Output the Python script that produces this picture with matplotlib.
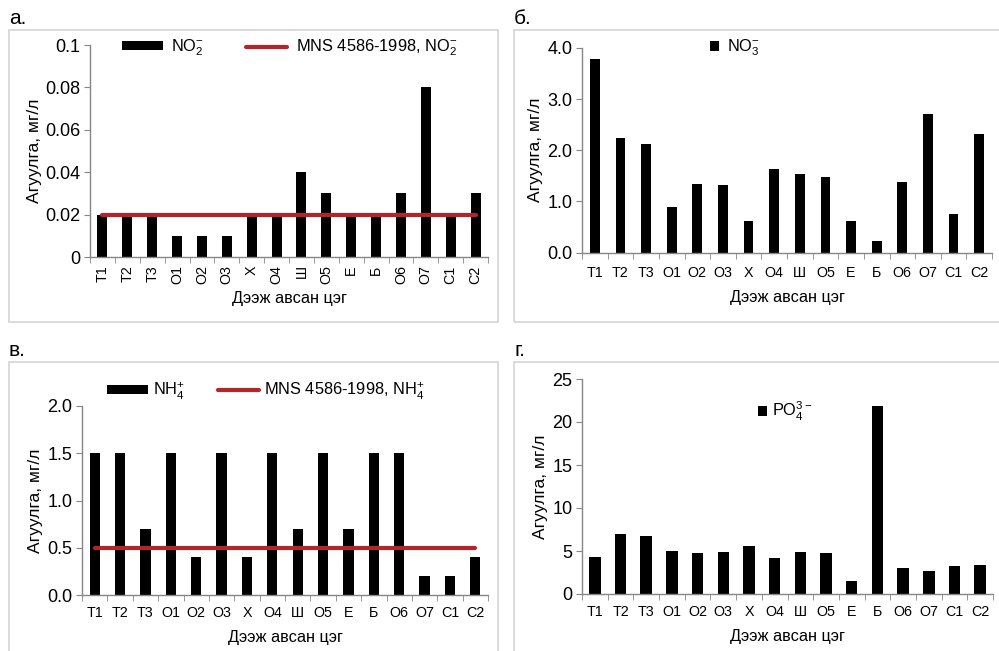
"""Four-panel nutrient concentration chart (NO2-, NO3-, NH4+, PO4 3-) by sampling point."""
import matplotlib
matplotlib.use("Agg")
import matplotlib.pyplot as plt
from matplotlib.patches import Rectangle
from matplotlib.ticker import FixedLocator, MultipleLocator

plt.rcParams["font.family"] = ["Liberation Sans", "DejaVu Sans"]
plt.rcParams["mathtext.fontset"] = "custom"
plt.rcParams["mathtext.rm"] = "Liberation Sans"
plt.rcParams["mathtext.it"] = "Liberation Sans"
plt.rcParams["mathtext.default"] = "regular"

SITES = ["T1", "T2", "T3", "O1", "O2", "O3", "X", "O4", "Ш", "O5",
         "E", "Б", "O6", "O7", "C1", "C2"]

NO2 = [0.02, 0.02, 0.02, 0.01, 0.01, 0.01, 0.02, 0.02, 0.04, 0.03,
       0.02, 0.02, 0.03, 0.08, 0.02, 0.03]
NO2_LIMIT = 0.02

NO3 = [3.78, 2.23, 2.12, 0.89, 1.34, 1.33, 0.62, 1.63, 1.54, 1.48,
       0.61, 0.23, 1.38, 2.70, 0.75, 2.32]

NH4 = [1.5, 1.5, 0.7, 1.5, 0.4, 1.5, 0.4, 1.5, 0.7, 1.5,
       0.7, 1.5, 1.5, 0.2, 0.2, 0.4]
NH4_LIMIT = 0.5

PO4 = [4.35, 7.0, 6.7, 5.05, 4.75, 4.9, 5.55, 4.2, 4.85, 4.75,
       1.55, 21.9, 3.05, 2.7, 3.25, 3.35]

RED = "#b2262b"
AXIS = "#868686"
BOX = "#d4d4d4"
YLABEL = "Агуулга, мг/л"
XLABEL = "Дээж авсан цэг"

fig = plt.figure(figsize=(9.99, 6.51), dpi=100, facecolor="white")

# light grey frames round each panel (pixel coords -> figure fraction)
W, H = 999, 651
for x0, y0, x1, y1 in [(9, 30, 498, 322), (514, 30, 1005, 322),
                       (9, 362, 498, 660), (514, 362, 1005, 660)]:
    fig.patches.append(Rectangle((x0 / W, 1 - y1 / H), (x1 - x0) / W, (y1 - y0) / H,
                                 transform=fig.transFigure, fill=False,
                                 edgecolor=BOX, linewidth=1.2))

for txt, px, py in [("а.", 9, 19), ("б.", 514, 19), ("в.", 9, 351), ("г.", 514, 351)]:
    fig.text(px / W, 1 - py / H, txt, fontsize=15, va="center", ha="left")


def make_ax(x0, y0, x1, y1):
    return fig.add_axes([x0 / W, 1 - y1 / H, (x1 - x0) / W, (y1 - y0) / H])


def style(ax, ymax, step, fmt, rotate=False, xpad=8.5, xlpad=6, ylpad=3):
    x = range(len(SITES))
    ax.set_xlim(-0.5, len(SITES) - 0.5)
    ax.set_ylim(0, ymax)
    for s in ("top", "right"):
        ax.spines[s].set_visible(False)
    for s in ("left", "bottom"):
        ax.spines[s].set_color(AXIS)
        ax.spines[s].set_linewidth(1.0)
    ax.set_xticks(list(x))
    ax.set_xticklabels(SITES, rotation=90 if rotate else 0, fontsize=10.3)
    ax.xaxis.set_minor_locator(FixedLocator([i - 0.5 for i in range(len(SITES) + 1)]))
    ax.tick_params(axis="x", which="major", length=0, pad=xpad)
    ax.tick_params(axis="x", which="minor", length=4, color=AXIS, direction="out")
    ax.yaxis.set_major_locator(MultipleLocator(step))
    ax.yaxis.set_major_formatter(fmt)
    ax.tick_params(axis="y", length=4, color=AXIS, labelsize=13, pad=3)
    ax.set_xlabel(XLABEL, fontsize=11.7, labelpad=xlpad)
    ax.set_ylabel(YLABEL, fontsize=12.5, labelpad=ylpad)


LEG = dict(frameon=False, fontsize=11.8, borderpad=0, borderaxespad=0,
           loc="center left")

# а. NO2-
ax = make_ax(90, 45, 488, 257)
bars = ax.bar(range(len(SITES)), NO2, 0.4, color="black")
line, = ax.plot(range(len(SITES)), [NO2_LIMIT] * len(SITES), color=RED, lw=3,
                solid_capstyle="round")
style(ax, 0.1, 0.02, lambda v, p: f"{v:g}", rotate=True, xpad=6, xlpad=5, ylpad=2)
ax.legend([bars, line], ["NO$_2^{-}$", "MNS 4586-1998, NO$_2^{-}$"], ncol=2,
          bbox_to_anchor=(0.08, 0.986), handlelength=2.5, handleheight=0.45,
          columnspacing=2.6, handletextpad=0.5, **LEG)

# б. NO3-
ax = make_ax(582, 48, 992, 252.5)
bars = ax.bar(range(len(SITES)), NO3, 0.38, color="black")
style(ax, 4.0, 1.0, lambda v, p: f"{v:.1f}", xpad=10, xlpad=7)
ax.legend([bars], ["NO$_3^{-}$"], bbox_to_anchor=(0.312, 1.0),
          handlelength=0.55, handleheight=0.55, handletextpad=0.5, **LEG)

# в. NH4+
ax = make_ax(82, 406, 488, 595)
bars = ax.bar(range(len(SITES)), NH4, 0.4, color="black")
line, = ax.plot(range(len(SITES)), [NH4_LIMIT] * len(SITES), color=RED, lw=3,
                solid_capstyle="round")
style(ax, 2.0, 0.5, lambda v, p: f"{v:.1f}", xpad=8, xlpad=7)
ax.legend([bars, line], ["NH$_4^{+}$", "MNS 4586-1998, NH$_4^{+}$"], ncol=2,
          bbox_to_anchor=(0.062, 1.079), handlelength=2.5, handleheight=0.45,
          columnspacing=2.0, handletextpad=0.3, **LEG)

# г. PO4 3-
ax = make_ax(582, 379, 993, 594)
bars = ax.bar(range(len(SITES)), PO4, 0.45, color="black")
style(ax, 25, 5, lambda v, p: f"{v:.0f}", xpad=8, xlpad=7)
ax.legend([bars], ["PO$_4^{3-}$"], bbox_to_anchor=(0.428, 0.847),
          handlelength=0.55, handleheight=0.55, handletextpad=0.3, **LEG)

fig.savefig("out.png", dpi=100, facecolor="white")
